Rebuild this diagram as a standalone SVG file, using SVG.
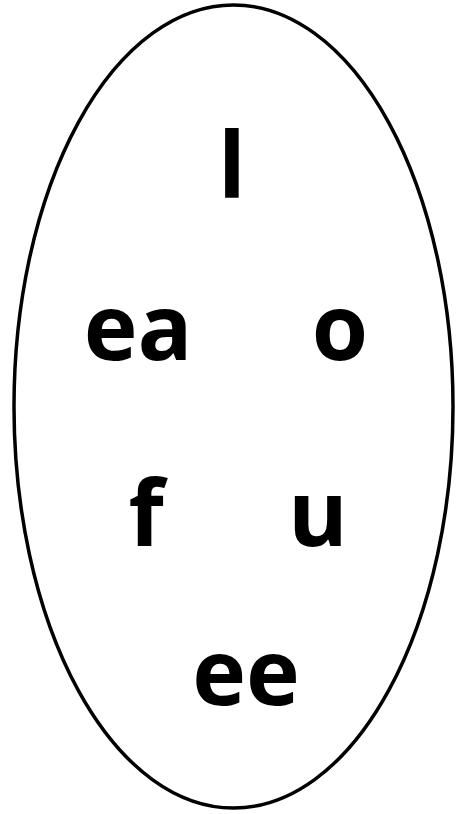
<svg xmlns="http://www.w3.org/2000/svg" width="467" height="814" viewBox="0 0 467 814">
<style>
.t{font-family:"Open Sans","DejaVu Sans",sans-serif;font-weight:bold;font-size:91px;fill:#000;text-anchor:middle}
</style>
<rect width="467" height="814" fill="#fff"/>
<g id="oval"><ellipse cx="233.5" cy="406.5" rx="219.5" ry="401.5" fill="none" stroke="#000" stroke-width="3.5"/></g>
<g id="connectors"></g>
<g id="n-l"><text class="t" x="232" y="198">l</text></g>
<g id="n-ea"><text class="t" x="138" y="360">ea</text></g>
<g id="n-o"><text class="t" x="340" y="360">o</text></g>
<g id="n-f"><text class="t" x="146" y="546">f</text></g>
<g id="n-u"><text class="t" x="318" y="546">u</text></g>
<g id="n-ee"><text class="t" x="246" y="705">ee</text></g>
</svg>
